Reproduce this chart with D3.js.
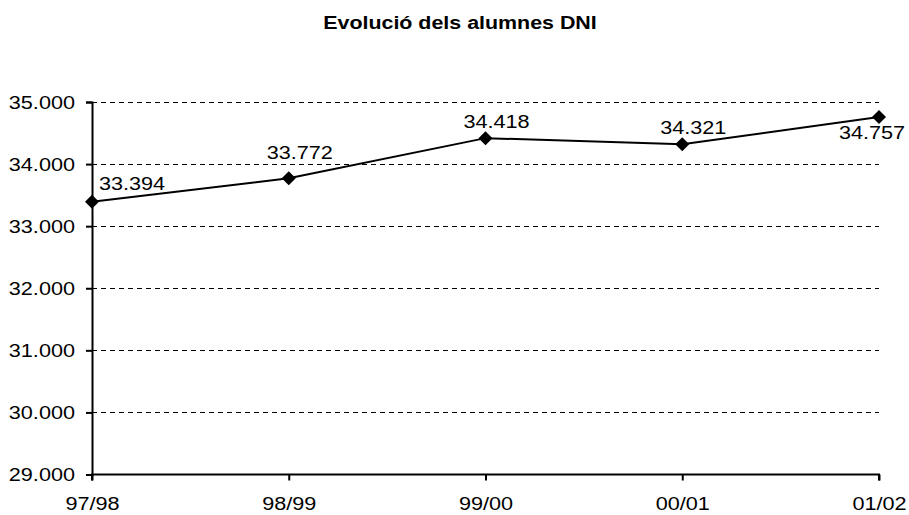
<!DOCTYPE html>
<html>
<head>
<meta charset="utf-8">
<script src="https://cdn.jsdelivr.net/npm/d3@7"></script>
<style>
  body { margin: 0; background: #fff; }
  svg { display: block; font-family: "Liberation Sans", Arial, sans-serif; }
</style>
</head>
<body>
<svg id="chart" width="909" height="515"></svg>
<script>
const title = "Evolució dels alumnes DNI";
const categories = ["97/98", "98/99", "99/00", "00/01", "01/02"];
const values = [33394, 33772, 34418, 34321, 34757];
const yTicks = [29000, 30000, 31000, 32000, 33000, 34000, 35000];

(function () {
const svg = d3.select("#chart");
const mLeft = 92, mRight = 879, mTop = 102, mBottom = 474.5;
const SX = 1.14;  // horizontal stretch of the original's number text
const SXT = 1.19; // horizontal stretch of the title

const x = d3.scalePoint().domain(categories).range([mLeft, mRight]);
const y = d3.scaleLinear().domain([29000, 35000]).range([mBottom, mTop]);

const fmt = v => d3.format(",")(v).replace(/,/g, ".");

// title
svg.append("text")
  .attr("transform", `translate(460,29) scale(${SXT},1)`)
  .attr("text-anchor", "middle")
  .attr("font-weight", "bold")
  .attr("font-size", 18)
  .text(title);

// gridlines
svg.append("g")
  .selectAll("line")
  .data(yTicks.filter(t => t !== 29000))
  .join("line")
  .attr("x1", mLeft).attr("x2", mRight)
  .attr("y1", d => Math.round(y(d)) + 0.5).attr("y2", d => Math.round(y(d)) + 0.5)
  .attr("stroke", "#000")
  .attr("stroke-width", 1)
  .attr("stroke-dasharray", "5,4");

// y axis
const yAxis = d3.axisLeft(y).tickValues(yTicks).tickFormat(fmt).tickSize(6);
const gy = svg.append("g").attr("transform", `translate(${mLeft},0)`).call(yAxis);
gy.select(".domain").attr("stroke-width", 2);
gy.selectAll(".tick line").attr("stroke-width", 2);
gy.selectAll("text")
  .attr("x", null)
  .attr("transform", `translate(-17,0) scale(${SX},1)`)
  .attr("font-size", 19).attr("fill", "#000")
  .attr("font-family", "Liberation Sans, Arial, sans-serif");

// x axis
const xAxis = d3.axisBottom(x).tickSize(6);
const gx = svg.append("g").attr("transform", `translate(0,${mBottom})`).call(xAxis);
gx.select(".domain").attr("stroke-width", 2).attr("d", `M${mLeft},6V0H${mRight}V6`);
gx.selectAll(".tick line").attr("stroke-width", 2);
gx.selectAll("text")
  .attr("y", null)
  .attr("transform", `translate(0,22) scale(${SX},1)`)
  .attr("font-size", 19).attr("fill", "#000")
  .attr("font-family", "Liberation Sans, Arial, sans-serif");

// line
const line = d3.line().x((d, i) => x(categories[i])).y(d => y(d));
svg.append("path")
  .datum(values)
  .attr("d", line)
  .attr("fill", "none")
  .attr("stroke", "#000")
  .attr("stroke-width", 2);

// markers
svg.append("g")
  .selectAll("path")
  .data(values)
  .join("path")
  .attr("transform", (d, i) => `translate(${x(categories[i])},${y(d)})`)
  .attr("d", "M0,-7L7,0L0,7L-7,0Z")
  .attr("fill", "#000");

// data labels (offsets as placed in the original)
const labelOffsets = [[40, -11.5], [11, -19], [11, -10], [11, -10], [-7, 22]];
svg.append("g")
  .selectAll("text")
  .data(values)
  .join("text")
  .attr("transform", (d, i) =>
    `translate(${x(categories[i]) + labelOffsets[i][0]},${y(d) + labelOffsets[i][1]}) scale(${SX},1)`)
  .attr("text-anchor", "middle")
  .attr("font-size", 19)
  .attr("fill", "#000")
  .text(d => fmt(d));
})();
</script>
</body>
</html>
